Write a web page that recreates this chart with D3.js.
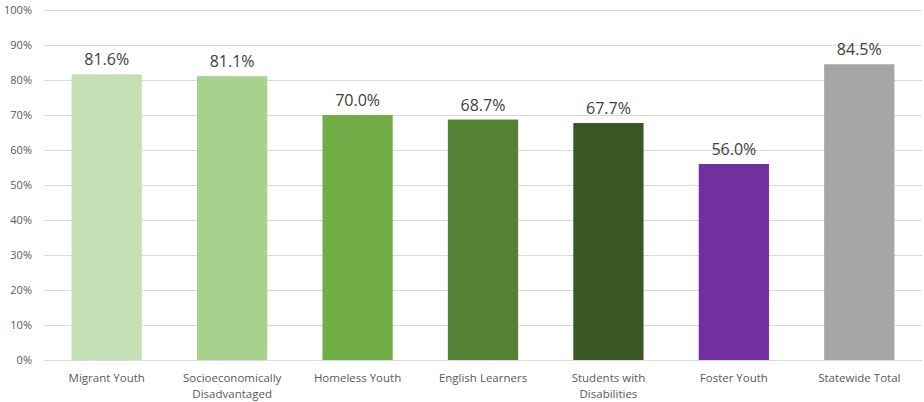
<!DOCTYPE html>
<html><head><meta charset="utf-8">
<script src="https://cdn.jsdelivr.net/npm/d3@7"></script>
<style>body{margin:0;background:#fff}svg{display:block}text{font-family:"Open Sans","Liberation Sans",sans-serif}</style>
</head><body><svg id="c" width="924" height="402"></svg>
<script>
const categories = [["Migrant Youth"],["Socioeconomically","Disadvantaged"],["Homeless Youth"],["English Learners"],["Students with","Disabilities"],["Foster Youth"],["Statewide Total"]];
const values = [81.6, 81.1, 70.0, 68.7, 67.7, 56.0, 84.5];
const colors = ["#c5e0b4","#a9d18e","#70ad47","#548235","#385723","#7030a0","#a5a5a5"];
const yTicks = [0,10,20,30,40,50,60,70,80,90,100];

const svg = d3.select("#c");
const x = d3.scaleBand().domain(d3.range(values.length)).range([44, 922]).paddingInner(0.44).paddingOuter(0.22);
const y = d3.scaleLinear().domain([0,100]).range([360, 10]);

svg.append("g").selectAll("line").data(yTicks).join("line")
  .attr("x1", 44).attr("x2", 922).attr("y1", d=>y(d)+0.5).attr("y2", d=>y(d)+0.5)
  .attr("stroke", "#d9d9d9").attr("stroke-width", 1);

svg.append("g").selectAll("text").data(yTicks).join("text")
  .attr("x", 32).attr("y", d=>y(d)).attr("dy", "0.35em").attr("text-anchor","end")
  .attr("font-size", 11).attr("fill", "#595959").text(d=>d+"%");

svg.append("g").selectAll("rect").data(values).join("rect")
  .attr("x", (d,i)=>x(i)).attr("width", x.bandwidth())
  .attr("y", d=>y(d)).attr("height", d=>y(0)-y(d)).attr("fill", (d,i)=>colors[i]);

svg.append("g").selectAll("text").data(values).join("text")
  .attr("x", (d,i)=>x(i)+x.bandwidth()/2).attr("y", d=>y(d)-9)
  .attr("text-anchor","middle").attr("font-size", 16).attr("fill","#404040")
  .text(d=>d.toFixed(1)+"%");

const cl = svg.append("g").selectAll("text").data(categories).join("text")
  .attr("text-anchor","middle").attr("font-size", 11.5).attr("fill","#595959")
  .attr("transform", (d,i)=>`translate(${x(i)+x.bandwidth()/2},382)`);
cl.selectAll("tspan").data(d=>d).join("tspan").attr("x",0).attr("dy",(d,j)=>j?16:0).text(d=>d);
</script></body></html>
